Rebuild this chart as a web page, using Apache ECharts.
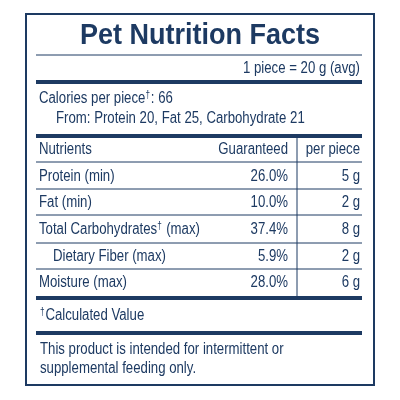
<!DOCTYPE html>
<html><head><meta charset="utf-8">
<script src="https://cdn.jsdelivr.net/npm/echarts@6/dist/echarts.min.js"></script>
<style>html,body{margin:0;padding:0;background:#fff}#c{width:400px;height:400px}</style>
</head><body><div id="c"></div>
<script>
var title = 'Pet Nutrition Facts';
var servingText = '1 piece = 20 g (avg)';
var caloriesText = 'Calories per piece{s|\u2020}: 66';
var fromText = 'From: Protein 20, Fat 25, Carbohydrate 21';
var headers = ['Nutrients', 'Guaranteed', 'per piece'];
var nutrients = ['Protein (min)', 'Fat (min)', 'Total Carbohydrates{s|\u2020} (max)', 'Dietary Fiber (max)', 'Moisture (max)'];
var indented = [false, false, false, true, false];
var guaranteed = ['26.0%', '10.0%', '37.4%', '5.9%', '28.0%'];
var perPiece = ['5 g', '2 g', '8 g', '2 g', '6 g'];
var footnote = '{s|\u2020}Calculated Value';
var disclaimer = ['This product is intended for intermittent or', 'supplemental feeding only.'];

var C = '#1d3a62', F = '"Liberation Sans",Arial,sans-serif';
var g = [];
function txt(x, y, s, opt) {
  opt = opt || {};
  var size = opt.size || 16;
  g.push({type:'text', x:x, y:y, scaleX:opt.sx || 0.825, style:{text:s, fill:C, fontFamily:F, fontSize:size,
    fontWeight:opt.bold?'bold':'normal', align:opt.align||'left', verticalAlign:'middle',
    rich:{s:{fontSize:10, fill:C, fontFamily:F, padding:[0,1,8,0]}}}});
}
function hline(y, w) { g.push({type:'line', shape:{x1:36,y1:y,x2:362,y2:y}, style:{stroke:C, lineWidth:w}}); }
g.push({type:'rect', shape:{x:26,y:14,width:348,height:371}, style:{fill:'none', stroke:C, lineWidth:2}});
txt(200, 36, title, {bold:true, size:30, align:'center', sx:0.9});
hline(55, 1);
txt(360, 69, servingText, {align:'right'});
hline(82, 4);
txt(39, 99, caloriesText);
txt(56, 119, fromText);
hline(136, 4);
txt(39, 150, headers[0]);
txt(288, 150, headers[1], {align:'right'});
txt(360, 150, headers[2], {align:'right'});
var lineYs = [162, 189, 215, 243, 269];
var rowYs = [177, 203, 230, 257, 283];
nutrients.forEach(function(n, i) {
  hline(lineYs[i], 1);
  txt(indented[i] ? 53 : 39, rowYs[i], n);
  txt(288, rowYs[i], guaranteed[i], {align:'right'});
  txt(360, rowYs[i], perPiece[i], {align:'right'});
});
g.push({type:'line', shape:{x1:297,y1:136,x2:297,y2:297}, style:{stroke:C, lineWidth:1}});
hline(298, 4);
txt(40, 316, footnote);
hline(333, 4);
txt(40, 350, disclaimer[0]);
txt(40, 369, disclaimer[1]);
var chart = echarts.init(document.getElementById('c'));
chart.setOption({animation:false, graphic:g});
</script></body></html>
